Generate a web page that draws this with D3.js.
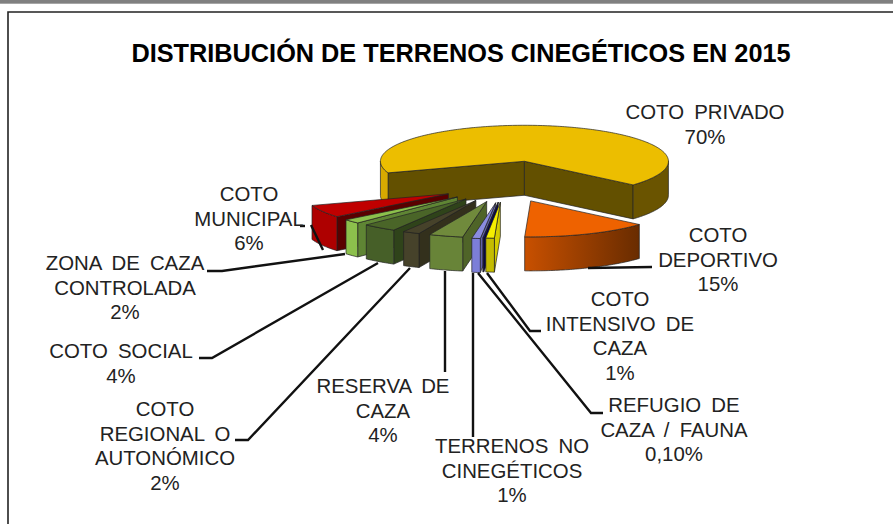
<!DOCTYPE html>
<html>
<head>
<meta charset="utf-8">
<script src="https://cdn.jsdelivr.net/npm/d3@7"></script>
<style>
  html, body { margin: 0; padding: 0; background: #fff; }
  svg { display: block; }
  text { font-family: "Liberation Sans", Arial, sans-serif; fill: #222; }
</style>
</head>
<body>
<div id="chart"></div>
<script>
// clockwise from the orange slice
const categories = [
  ["COTO", "DEPORTIVO"],
  ["COTO", "INTENSIVO DE", "CAZA"],
  ["REFUGIO DE", "CAZA / FAUNA"],
  ["TERRENOS NO", "CINEGÉTICOS"],
  ["RESERVA DE", "CAZA"],
  ["COTO", "REGIONAL O", "AUTONÓMICO"],
  ["COTO SOCIAL"],
  ["ZONA DE CAZA", "CONTROLADA"],
  ["COTO", "MUNICIPAL"],
  ["COTO PRIVADO"]
];
const values = [15, 1, 0.1, 1, 4, 2, 4, 2, 6, 70];
const valueLabels = ["15%", "1%", "0,10%", "1%", "4%", "2%", "4%", "2%", "6%", "70%"];
const explosion = [0.45, 0.45, 0.45, 0.47, 0.45, 0.45, 0.45, 0.45, 0.45, 0.7];

const topColors = ["#ee6200", "#f5ee00", "#00007a", "#8a8ce0", "#708a3c", "#46422a", "#4a6528", "#8cc04c", "#c00000", "#ecbe00"];
const wallColors = ["#8a3a00", "#c4bc00", "#000050", "#7c7ed8", "#688438", "#46422a", "#465f28", "#8cc04c", "#ae0000", "#6a5400"];
const cutColors = ["#8a3a00", "#d4cc00", "#000050", "#6062a8", "#4f6428", "#33301c", "#2f431a", "#5f8534", "#5a0000", "#635000"];

const width = 893, height = 524;
const svg = d3.select("#chart").append("svg").attr("width", width).attr("height", height);

// page frame
svg.append("rect").attr("width", width).attr("height", 3.7).attr("fill", "#808080");
svg.append("path")
  .attr("d", `M8,524V12H893`)
  .attr("fill", "none").attr("stroke", "#222").attr("stroke-width", 1.6);

svg.append("text")
  .attr("x", 461).attr("y", 61.5)
  .attr("text-anchor", "middle")
  .attr("font-size", 25.3).attr("font-weight", "bold")
  .style("fill", "#000")
  .text("DISTRIBUCIÓN DE TERRENOS CINEGÉTICOS EN 2015");

// flattened circle: u,v in pie radii, drawn orthographic
const x = d3.scaleLinear().domain([-1, 1]).range([361, 649]);
const y = d3.scaleLinear().domain([-1, 1]).range([222, 150]);
const depth = 34;

const pie = d3.pie().sort(null).value(d => d)
  .startAngle(131 * Math.PI / 180)
  .endAngle((131 + 360) * Math.PI / 180);
const arcs = pie(values);

const grad = svg.append("defs").append("linearGradient").attr("id", "orangeWall");
grad.append("stop").attr("offset", "0%").attr("stop-color", "#c85000");
grad.append("stop").attr("offset", "100%").attr("stop-color", "#692c00");

function drop(p) { return [p[0], p[1] + depth]; }
const poly = d3.line();

function drawSlice(i) {
  const d = arcs[i];
  const mid = (d.startAngle + d.endAngle) / 2;
  const ox = explosion[i] * Math.sin(mid), oy = explosion[i] * Math.cos(mid);
  const at = a => [x(ox + Math.sin(a)), y(oy + Math.cos(a))];
  const apex = [x(ox), y(oy)];
  const angles = d3.range(d.startAngle, d.endAngle, Math.PI / 180).concat([d.endAngle]);
  const first = at(d.startAngle), last = at(d.endAngle);
  const g = svg.append("g").attr("stroke", "#222").attr("stroke-width", 0.7).attr("stroke-linejoin", "round");

  // cut walls that face the viewer
  if (Math.cos(d.startAngle - Math.PI / 2) < 0) {
    g.append("path").attr("fill", cutColors[i])
      .attr("d", poly([apex, first, drop(first), drop(apex)]) + "Z");
  }
  if (Math.cos(d.endAngle + Math.PI / 2) < 0) {
    g.append("path").attr("fill", cutColors[i])
      .attr("d", poly([apex, last, drop(last), drop(apex)]) + "Z");
  }

  // outer wall, the big slice shows two separate pieces of it
  const runs = [];
  let run = [];
  angles.forEach(a => {
    if (Math.cos(a) < 0.02) run.push(at(a));
    else if (run.length) { runs.push(run); run = []; }
  });
  if (run.length) runs.push(run);
  runs.forEach((r, k) => {
    let fill = wallColors[i];
    if (i === 0) fill = "url(#orangeWall)";
    if (i === 9 && k === 0) fill = "#d8aa00";
    g.append("path").attr("fill", fill)
      .attr("d", poly(r.concat(r.map(drop).reverse())) + "Z");
  });

  g.append("path").attr("fill", topColors[i])
    .attr("d", poly([apex].concat(angles.map(at))) + "Z");
}

// back to front
[9, 0, 8, 7, 6, 5, 4, 3, 2, 1].forEach(drawSlice);

// leader lines
const leaders = [
  [[588, 268], [652, 267]],
  [[487, 273], [530, 331], [541, 331]],
  [[478, 273], [591, 413], [603, 413]],
  [[473, 273], [473, 437]],
  [[445, 271], [445, 372]],
  [[410, 268], [248, 440], [235, 440]],
  [[378, 263], [212, 358], [199, 358]],
  [[345, 254], [222, 271], [207, 271]],
  [[311, 225], [323, 250]],
  [[300, 226], [305, 226]]
];
svg.append("g").selectAll("path").data(leaders).join("path")
  .attr("fill", "none").attr("stroke", "#111").attr("stroke-width", 2.4)
  .attr("d", d => poly(d));

// centre x and first baseline of each label
const labelPos = [
  [718, 242], [620, 306], [674, 412], [512, 453], [383, 393],
  [165, 416], [121, 358], [125, 270], [249, 201], [705, 119]
];
const lineH = 24.5;
categories.forEach((c, i) => {
  const t = svg.append("text").attr("text-anchor", "middle")
    .attr("font-size", 20.4).attr("word-spacing", 4.5);
  c.concat([valueLabels[i]]).forEach((line, k) => {
    t.append("tspan")
      .attr("x", labelPos[i][0])
      .attr("y", labelPos[i][1] + k * lineH)
      .text(line);
  });
});
</script>
</body>
</html>
